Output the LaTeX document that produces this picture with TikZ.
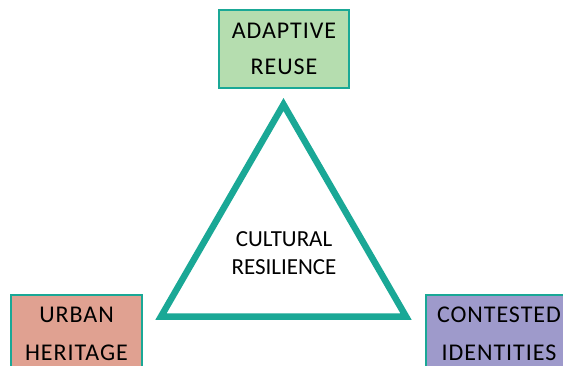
\documentclass[tikz,border=0pt]{standalone}
\usepackage{fontspec}
\setmainfont{Carlito}
\usepackage{xcolor}
\usetikzlibrary{positioning}

\definecolor{tealline}{HTML}{1AA896}
\definecolor{greenfill}{HTML}{B5DDAF}
\definecolor{salmonfill}{HTML}{E0A191}
\definecolor{lavenderfill}{HTML}{9E9ACB}

\begin{document}
\begin{tikzpicture}[x=1pt, y=-1pt]
\tikzstyle{theme} = [rectangle, draw=tealline, line width=2pt, minimum width=130pt, minimum height=78pt, inner sep=0pt, align=center, font=\fontsize{24}{36}\selectfont\addfontfeature{LetterSpace=4}]
\useasboundingbox (0,0) rectangle (563,365);

% triangle
\coordinate (apex) at (283.5,104.5);
\coordinate (left) at (161,316.5);
\coordinate (right) at (406,316.5);
\draw [tealline, line width=6.5pt, fill=white] (apex) -- (left) -- (right) -- cycle;

\node (core) at (284,253) [align=center, font=\fontsize{23}{28.5}\selectfont] {CULTURAL\\RESILIENCE};

% themes
\node (reuse) [theme, fill=greenfill] at (284,49) {ADAPTIVE\\REUSE};
\node (heritage) [theme, fill=salmonfill, minimum width=131pt, font=\fontsize{24}{38}\selectfont\addfontfeature{LetterSpace=4}] at (76.5,334) {URBAN\\HERITAGE};
\node (identities) [theme, fill=lavenderfill, minimum width=146pt, font=\fontsize{24}{38}\selectfont\addfontfeature{LetterSpace=4}] at (499,334) {CONTESTED\\IDENTITIES};

\end{tikzpicture}
\end{document}
